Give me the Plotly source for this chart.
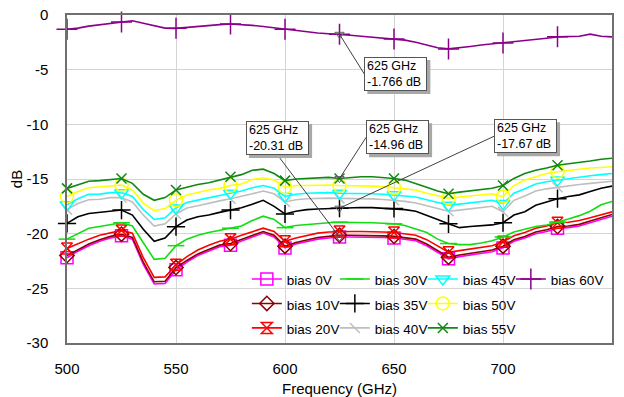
import plotly.graph_objects as go

# Frequency sweep (GHz) and axis ticks
FREQ_GHZ = list(range(500, 751, 5))
X_TICKS = [500, 550, 600, 650, 700, 750]
Y_TICKS = [0, -5, -10, -15, -20, -25, -30]
Y_TICK_TEXT = ["0", "-5", "-10", "-15", "-20", "-25", "-30"]

# Transmission (dB) for each bias voltage, sampled every 5 GHz
BIAS_0V = [-22.2, -21.6, -21.1, -20.7, -20.4, -20.2, -20.5, -22.8, -24.6, -24.55,
           -23.3, -22.6, -22.0, -21.6, -21.2, -21.05, -20.7, -20.3, -19.95, -20.3,
           -21.3, -20.95, -20.7, -20.5, -20.4, -20.31, -20.3, -20.3, -20.3, -20.35,
           -20.4, -20.5, -20.65, -21.1, -21.7, -22.3, -22.1, -21.95, -21.8, -21.65,
           -21.3, -20.7, -20.4, -20.0, -19.8, -19.5, -19.45, -19.3, -19.0, -18.7, -18.4]
BIAS_10V = [-22.0, -21.45, -20.95, -20.55, -20.25, -20.05, -20.35, -22.6, -24.4, -24.35,
            -23.1, -22.45, -21.85, -21.45, -21.05, -20.9, -20.55, -20.15, -19.8, -20.15,
            -21.15, -20.8, -20.55, -20.35, -20.25, -20.15, -20.15, -20.15, -20.15, -20.2,
            -20.25, -20.35, -20.5, -20.95, -21.55, -22.15, -21.95, -21.8, -21.65, -21.5,
            -21.15, -20.55, -20.25, -19.85, -19.65, -19.35, -19.3, -19.15, -18.85, -18.55, -18.25]
BIAS_20V = [-21.35, -20.9, -20.5, -20.15, -19.9, -19.7, -19.95, -22.2, -24.0, -23.95,
            -22.85, -22.1, -21.5, -21.05, -20.7, -20.5, -20.15, -19.8, -19.5, -19.8,
            -20.7, -20.4, -20.15, -19.95, -19.85, -19.8, -19.8, -19.8, -19.8, -19.85,
            -19.9, -20.0, -20.15, -20.55, -21.15, -21.7, -21.55, -21.4, -21.25, -21.1,
            -20.75, -20.2, -19.9, -19.5, -19.3, -19.0, -18.95, -18.8, -18.55, -18.25, -18.0]
BIAS_30V = [-20.5, -20.0, -19.5, -19.35, -19.2, -19.0, -19.3, -20.8, -22.35, -22.25,
            -21.1, -20.5, -20.15, -19.9, -19.7, -19.5, -19.3, -18.8, -18.4, -18.7,
            -19.45, -19.25, -19.15, -19.05, -19.0, -18.95, -18.95, -18.95, -19.0, -19.05,
            -19.1, -19.25, -19.55, -19.9, -20.5, -20.9, -21.0, -21.0, -20.85, -20.65,
            -20.3, -19.85, -19.6, -19.35, -19.2, -18.95, -18.65, -18.35, -17.95, -17.35, -17.05]
BIAS_35V = [-19.06, -18.45, -18.15, -18.05, -17.93, -17.84, -18.3, -19.6, -20.7, -20.4,
            -19.36, -18.76, -18.45, -18.3, -18.05, -17.84, -17.63, -17.3, -16.95, -17.5,
            -18.2, -17.95, -17.8, -17.75, -17.7, -17.67, -17.62, -17.6, -17.62, -17.66,
            -17.7, -17.8, -17.95, -18.3, -18.7, -19.1, -19.45, -19.35, -19.3, -19.2,
            -19.0, -18.3, -18.0, -17.4, -17.1, -16.8, -16.6, -16.45, -16.15, -15.85, -15.65]
BIAS_40V = [-17.8, -17.25, -16.9, -16.85, -16.7, -16.7, -17.1, -18.3, -19.3, -19.1,
            -18.2, -17.65, -17.45, -17.2, -17.0, -16.8, -16.6, -16.35, -16.1, -16.35,
            -17.1, -16.9, -16.8, -16.75, -16.75, -16.77, -16.77, -16.78, -16.82, -16.88,
            -16.95, -17.05, -17.2, -17.45, -17.7, -17.95, -17.85, -17.75, -17.65, -17.5,
            -18.0, -16.95, -16.55, -16.1, -15.9, -15.75, -15.6, -15.5, -15.4, -15.3, -15.2]
BIAS_45V = [-17.35, -16.8, -16.4, -16.38, -16.25, -16.25, -16.6, -17.8, -18.7, -18.55,
            -17.65, -17.15, -16.93, -16.7, -16.5, -16.3, -16.1, -15.8, -15.6, -15.85,
            -16.6, -16.4, -16.3, -16.25, -16.25, -16.3, -16.3, -16.3, -16.35, -16.4,
            -16.45, -16.55, -16.65, -16.9, -17.15, -17.4, -17.3, -17.2, -17.1, -16.95,
            -17.25, -16.3, -15.9, -15.45, -15.25, -15.1, -14.95, -14.8, -14.7, -14.6, -14.5]
BIAS_50V = [-16.6, -16.15, -15.8, -15.7, -15.6, -15.55, -16.0, -17.2, -17.9, -17.7,
            -16.95, -16.47, -16.23, -16.0, -15.86, -15.6, -15.45, -15.05, -14.88, -15.1,
            -15.75, -15.6, -15.6, -15.55, -15.55, -15.6, -15.6, -15.6, -15.65, -15.7,
            -15.8, -15.9, -16.0, -16.3, -16.55, -16.75, -16.65, -16.55, -16.45, -16.35,
            -16.6, -15.6, -15.1, -14.8, -14.5, -14.33, -14.2, -14.1, -14.0, -13.95, -13.88]
BIAS_55V = [-15.86, -15.5, -15.2, -15.15, -15.05, -14.95, -15.4, -16.4, -16.95, -16.7,
            -16.0, -15.75, -15.5, -15.35, -15.1, -14.8, -14.6, -14.2, -14.1, -14.5,
            -15.15, -15.0, -14.95, -14.9, -14.85, -14.96, -14.85, -14.8, -14.8, -14.85,
            -14.95, -15.1, -15.4, -15.75, -16.1, -16.35, -16.2, -16.1, -15.95, -15.85,
            -15.6, -14.95, -14.5, -14.2, -14.0, -13.75, -13.6, -13.5, -13.35, -13.2, -13.1]
BIAS_60V = [-1.3, -1.2, -1.02, -0.9, -0.8, -0.65, -0.53, -0.75, -1.0, -1.2,
            -1.22, -1.12, -1.02, -0.95, -0.88, -0.83, -0.88, -0.95, -1.05, -1.18,
            -1.3, -1.42, -1.52, -1.65, -1.72, -1.766, -1.85, -1.95, -2.05, -2.12,
            -2.2, -2.3, -2.5, -2.75, -3.0, -3.1, -3.02, -2.88, -2.75, -2.65,
            -2.55, -2.48, -2.35, -2.25, -2.12, -2.0, -1.98, -1.95, -1.75, -1.95, -2.0]

SERIES_NAMES = ["bias 0V", "bias 10V", "bias 20V", "bias 30V", "bias 35V",
                "bias 40V", "bias 45V", "bias 50V", "bias 55V", "bias 60V"]
SERIES_DATA = [BIAS_0V, BIAS_10V, BIAS_20V, BIAS_30V, BIAS_35V,
               BIAS_40V, BIAS_45V, BIAS_50V, BIAS_55V, BIAS_60V]

# Marker readouts at one frequency
MARK_FREQ = 625
MARKED_SERIES = ["bias 60V", "bias 55V", "bias 35V", "bias 0V"]

# ---- styling -------------------------------------------------------------
FONT = "Arial, Liberation Sans, sans-serif"
STYLE = {
    "bias 0V":  dict(color="#FF00FF", symbol="square-open", size=12, col="c1"),
    "bias 10V": dict(color="#8B0000", symbol="diamond-open", size=11, col="c1"),
    "bias 20V": dict(color="#FF0000", symbol="hourglass-open", size=11, col="c1"),
    "bias 30V": dict(color="#11DD11", symbol="line-ew-open", size=12, col="c2"),
    "bias 35V": dict(color="#000000", symbol="cross-thin-open", size=13, col="c2"),
    "bias 40V": dict(color="#BEBEBE", symbol="line-nw-open", size=10, col="c2"),
    "bias 45V": dict(color="#00FFFF", symbol="triangle-down-open", size=12, col="c3"),
    "bias 50V": dict(color="#FFFF00", symbol="circle-open", size=13, col="c3"),
    "bias 55V": dict(color="#118811", symbol="x-thin-open", size=10, col="c3"),
    "bias 60V": dict(color="#8B008B", symbol="cross-thin-open", size=15, col="c4"),
}
MARKER_STEP = 5          # one marker every 25 GHz
LEGEND_TEXT_PX = 13.5
# callout boxes: (series, x, y, side the leader attaches to)
CALLOUTS = [("bias 60V", 636.4, -5.40, "left"),
            ("bias 55V", 637.2, -11.19, "left"),
            ("bias 35V", 695.9, -11.09, "left"),
            ("bias 0V", 596.6, -12.81, "bottom")]
BOX_W, BOX_H = 63, 34    # outer size of a callout box, px
SHADOW = 3               # drop-shadow offset, px

fig = go.Figure()
data_by_name = dict(zip(SERIES_NAMES, SERIES_DATA))

for name, values in zip(SERIES_NAMES, SERIES_DATA):
    st = STYLE[name]
    fig.add_trace(go.Scatter(
        x=FREQ_GHZ, y=values, mode="lines",
        line=dict(color=st["color"], width=1.6),
        showlegend=False, hoverinfo="skip"))
    fig.add_trace(go.Scatter(
        x=FREQ_GHZ[:-1:MARKER_STEP], y=values[:-1:MARKER_STEP], mode="markers",
        marker=dict(symbol=st["symbol"], size=st["size"], color=st["color"],
                    line=dict(color=st["color"], width=1.5)),
        showlegend=False, cliponaxis=False, hoverinfo="skip"))

# legend entries, one column per legend group
for name in SERIES_NAMES:
    st = STYLE[name]
    fig.add_trace(go.Scatter(
        x=[None], y=[None], mode="lines+markers",
        name='<span style="font-size:%spx">%s</span>' % (LEGEND_TEXT_PX, name),
        legendgroup=st["col"],
        legendwidth=55 if st["col"] == "c4" else None,
        line=dict(color=st["color"], width=1.6),
        marker=dict(symbol=st["symbol"], size=st["size"], color=st["color"],
                    line=dict(color=st["color"], width=1.5))))

# readout markers at the marked frequency
idx = FREQ_GHZ.index(MARK_FREQ)
mark_vals = [data_by_name[n][idx] for n in MARKED_SERIES]
fig.add_trace(go.Scatter(
    x=[MARK_FREQ] * len(mark_vals), y=mark_vals, mode="markers",
    marker=dict(symbol="triangle-down-open", size=8, color="#606060",
                line=dict(color="#606060", width=1)),
    showlegend=False, hoverinfo="skip"))

shapes = []
annotations = []
for name, bx, by, side in CALLOUTS:
    val = data_by_name[name][idx]
    text = "%d GHz<br>%.4g dB" % (MARK_FREQ, val)
    if side == "left":
        xa, ya = "left", "middle"
        sx0, sx1 = SHADOW, BOX_W + SHADOW
        sy0, sy1 = -BOX_H / 2 - SHADOW, BOX_H / 2 - SHADOW
    else:
        xa, ya = "center", "bottom"
        sx0, sx1 = -BOX_W / 2 + SHADOW, BOX_W / 2 + SHADOW
        sy0, sy1 = -SHADOW, BOX_H - SHADOW
    # leader line from the readout point to the box
    shapes.append(dict(type="line", xref="x", yref="y", x0=MARK_FREQ, y0=val,
                       x1=bx, y1=by, line=dict(color="#404040", width=1),
                       layer="above"))
    # drop shadow behind the box
    shapes.append(dict(type="rect", xref="x", yref="y",
                       xsizemode="pixel", ysizemode="pixel",
                       xanchor=bx, yanchor=by, x0=sx0, x1=sx1, y0=sy0, y1=sy1,
                       fillcolor="#A8A8A8", line=dict(width=0), layer="above"))
    annotations.append(dict(x=bx, y=by, xref="x", yref="y", text=text,
                            showarrow=False, xanchor=xa, yanchor=ya, align="left",
                            width=BOX_W - 6, height=BOX_H - 6, borderpad=2,
                            borderwidth=1, bgcolor="white", bordercolor="#555555",
                            font=dict(family=FONT, size=12.5, color="black")))

# white panel under the legend
shapes.append(dict(type="rect", xref="paper", yref="paper", x0=0.336, x1=0.994,
                   y0=0.01, y1=0.247, fillcolor="white", line=dict(width=0),
                   layer="between"))

fig.update_layout(
    width=624, height=397,
    margin=dict(l=67, r=12, t=15, b=54),
    paper_bgcolor="white", plot_bgcolor="white",
    font=dict(family=FONT, size=15, color="black"),
    shapes=shapes, annotations=annotations,
    legend=dict(orientation="h", x=0.33, xanchor="left", y=0.2476, yanchor="top",
                bgcolor="rgba(0,0,0,0)", borderwidth=0,
                font=dict(family=FONT, size=16.5, color="black"),
                entrywidth=43, entrywidthmode="pixels",
                traceorder="grouped", tracegroupgap=0, itemwidth=30),
)
fig.update_xaxes(
    range=[500, 750], tickvals=X_TICKS, ticktext=[str(t) for t in X_TICKS],
    showgrid=True, gridcolor="#D4D4D4", gridwidth=1, zeroline=False,
    showline=True, linecolor="#707070", linewidth=1.5, mirror=True,
    ticks="", ticklabelstandoff=11, tickfont=dict(family=FONT, size=15),
    title=dict(text="Frequency (GHz)", font=dict(family=FONT, size=15), standoff=8),
    automargin=False)
fig.update_yaxes(
    range=[-30, 0], tickvals=Y_TICKS, ticktext=Y_TICK_TEXT,
    showgrid=True, gridcolor="#D4D4D4", gridwidth=1, zeroline=False,
    showline=True, linecolor="#707070", linewidth=1.5, mirror=True,
    ticks="", ticklabelstandoff=14, tickfont=dict(family=FONT, size=15),
    title=dict(text="dB", font=dict(family=FONT, size=15), standoff=0),
    automargin=False)

fig.write_html("out.html")
